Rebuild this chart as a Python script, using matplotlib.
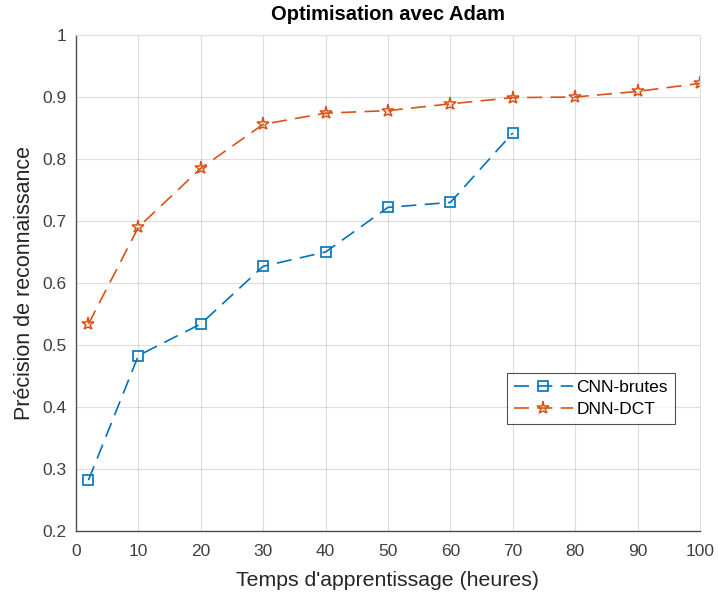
import matplotlib
matplotlib.use("Agg")
import matplotlib.pyplot as plt

plt.rcParams['font.family'] = ['Liberation Sans', 'DejaVu Sans']

x_cnn = [2, 10, 20, 30, 40, 50, 60, 70]
y_cnn = [0.282, 0.483, 0.534, 0.627, 0.650, 0.722, 0.730, 0.842]
x_dnn = [2, 10, 20, 30, 40, 50, 60, 70, 80, 90, 100]
y_dnn = [0.534, 0.690, 0.785, 0.856, 0.874, 0.878, 0.889, 0.899, 0.900, 0.909, 0.922]
xticks = [0, 10, 20, 30, 40, 50, 60, 70, 80, 90, 100]
yticks = [0.2, 0.3, 0.4, 0.5, 0.6, 0.7, 0.8, 0.9, 1.0]
ytick_labels = ['0.2', '0.3', '0.4', '0.5', '0.6', '0.7', '0.8', '0.9', '1']

fig = plt.figure(figsize=(7.18, 5.94), dpi=100)
ax = fig.add_axes([76/718, 63/594, 624/718, 496/594])

c1 = '#0072BD'
c2 = '#D95319'
ax.plot(x_cnn, y_cnn, linestyle=(0, (9, 5)), color=c1, lw=1.2, marker='s',
        markersize=7, markerfacecolor='none', markeredgewidth=1.2, label='CNN-brutes')
ax.plot(x_dnn, y_dnn, linestyle=(0, (9, 5)), color=c2, lw=1.2, marker='*',
        markersize=9.5, markerfacecolor='none', markeredgewidth=1.1, label='DNN-DCT')

ax.set_xlim(0, 100)
ax.set_ylim(0.2, 1.0)
ax.set_xticks(xticks)
ax.set_yticks(yticks)
ax.set_yticklabels(ytick_labels)
ax.grid(True, color='#262626', alpha=0.15, lw=0.8)
ax.set_axisbelow(True)
for side in ['left', 'bottom']:
    ax.spines[side].set_color('#4d4d4d')
    ax.spines[side].set_linewidth(1.0)
for side in ['top', 'right']:
    ax.spines[side].set_color('#dedede')
    ax.spines[side].set_linewidth(0.8)
ax.tick_params(direction='in', length=0, colors='#404040', labelsize=12.5)
ax.tick_params(axis='x', pad=9)
ax.tick_params(axis='y', pad=7)
ax.set_xlabel("Temps d'apprentissage (heures)", fontsize=15.3, color='#262626', labelpad=9)
ax.set_ylabel("Précision de reconnaissance", fontsize=15.5, color='#262626', labelpad=5)
ax.set_title("Optimisation avec Adam", fontsize=14.5, fontweight='bold', color='black', pad=11)

leg = ax.legend(loc='upper left', bbox_to_anchor=((507-76)/624, (531-373)/496), fontsize=12.5,
                frameon=True, fancybox=False, edgecolor='#262626', handlelength=3.4,
                borderpad=0.4, labelspacing=0.4, handletextpad=0.2, borderaxespad=0)
leg.get_frame().set_linewidth(0.8)

fig.savefig('out.png', dpi=100)
